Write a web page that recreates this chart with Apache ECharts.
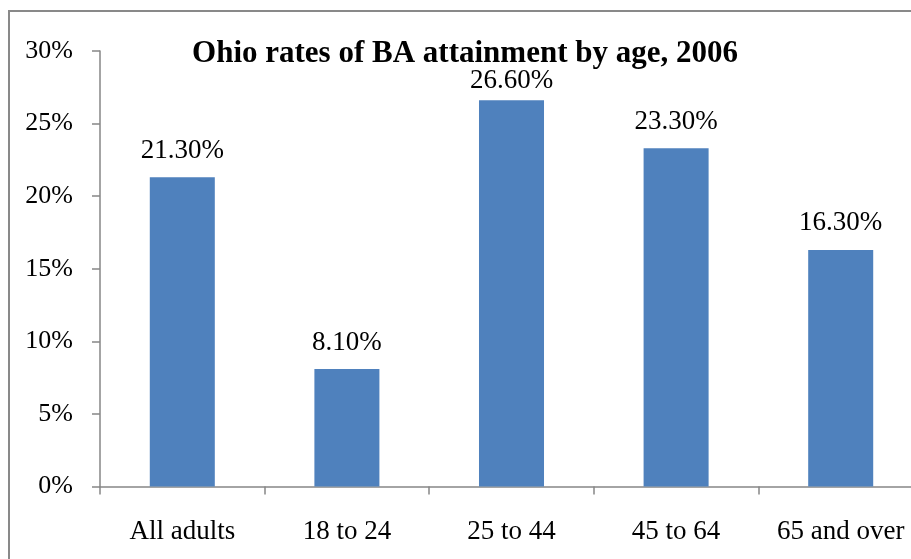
<!DOCTYPE html>
<html>
<head>
<meta charset="utf-8">
<script src="https://cdn.jsdelivr.net/npm/echarts@6/dist/echarts.min.js"></script>
<style>
  html, body { margin: 0; padding: 0; background: #fff; overflow: hidden; }
  /* the drawing surface is a little wider than the window; the last category is cut at the edge */
  #chart { width: 923px; height: 559px; }
</style>
</head>
<body>
<div id="chart"></div>
<script>
// Ohio bachelor's degree attainment by age group, 2006
const ageGroups = ['All adults', '18 to 24', '25 to 44', '45 to 64', '65 and over'];
const baRates = [21.3, 8.1, 26.6, 23.3, 16.3];
const rateTicks = [0, 5, 10, 15, 20, 25, 30];

const serif = '"Liberation Serif", "DejaVu Serif", serif';
const axisGray = '#868686';
const labelGap = 13;

const chart = echarts.init(document.getElementById('chart'), null, { renderer: 'canvas' });

// the tallest bar's label is tucked closer to the bar so it stays clear of the title
const barItems = baRates.map(v => ({
  value: v,
  label: { distance: v === Math.max(...baRates) ? 6 : labelGap }
}));

chart.setOption({
  backgroundColor: '#ffffff',
  animation: false,
  title: {
    text: 'Ohio rates of BA attainment by age, 2006',
    left: 460,
    top: 33,
    textAlign: 'center',
    textStyle: { fontFamily: serif, fontSize: 31, fontWeight: 'bold', color: '#000' }
  },
  graphic: [{
    type: 'rect',
    shape: { x: 9, y: 11, width: 950, height: 600 },
    style: { fill: 'none', stroke: '#898989', lineWidth: 2 },
    silent: true,
    z: -1
  }],
  grid: { left: 100, top: 51, right: 0, bottom: 72.5, containLabel: false },
  xAxis: {
    type: 'category',
    data: ageGroups,
    axisLine: { lineStyle: { color: axisGray, width: 1.5 } },
    axisTick: { show: true, length: 8, lineStyle: { color: axisGray, width: 1.5 } },
    axisLabel: { fontFamily: serif, fontSize: 27, color: '#000', margin: 32, interval: 0, hideOverlap: false }
  },
  yAxis: {
    type: 'value',
    min: rateTicks[0],
    max: rateTicks[rateTicks.length - 1],
    interval: 5,
    splitLine: { show: false },
    axisLine: { show: true, lineStyle: { color: axisGray, width: 1.5 } },
    axisTick: { show: true, length: 8, lineStyle: { color: axisGray, width: 1.5 } },
    axisLabel: {
      fontFamily: serif, fontSize: 26, color: '#000', margin: 27,
      formatter: v => v + '%'
    }
  },
  series: [{
    type: 'bar',
    data: barItems,
    barWidth: '39.5%',
    itemStyle: { color: '#4F81BD' },
    label: {
      show: true,
      position: 'top',
      fontFamily: serif,
      fontSize: 27,
      color: '#000',
      formatter: p => p.value.toFixed(2) + '%'
    }
  }]
});
</script>
</body>
</html>
